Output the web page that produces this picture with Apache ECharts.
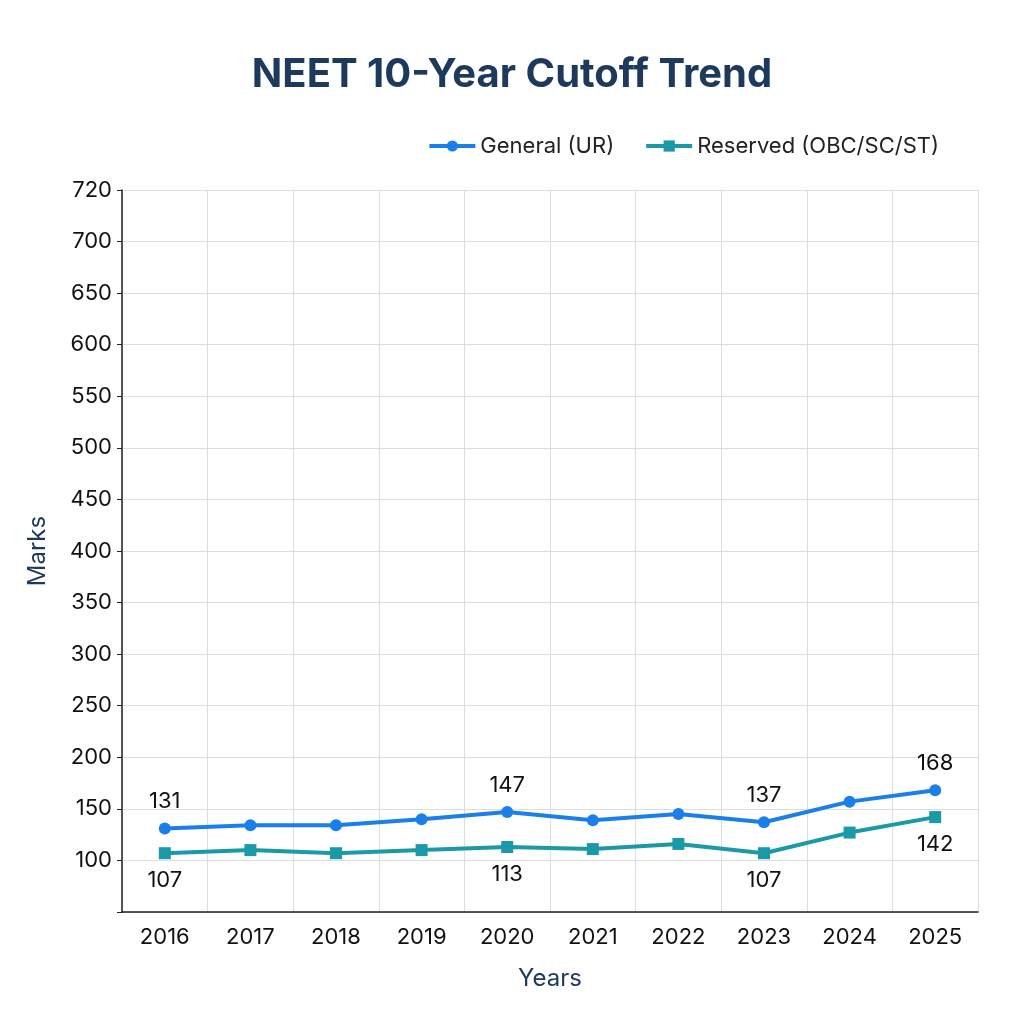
<!DOCTYPE html>
<html>
<head>
<meta charset="utf-8">
<script src="https://cdn.jsdelivr.net/npm/echarts@6/dist/echarts.min.js"></script>
<style>html,body{margin:0;background:#fff}#main{width:1024px;height:1024px}</style>
</head>
<body>
<div id="main"></div>
<script>
var years = ['2016','2017','2018','2019','2020','2021','2022','2023','2024','2025'];
var general = [131, 134, 134, 140, 147, 139, 145, 137, 157, 168];
var reserved = [107, 110, 107, 110, 113, 111, 116, 107, 127, 142];
var labelYears = ['2016','2020','2023','2025'];

function lbl(pos) {
    return {
        show: true,
        position: pos,
        distance: 10,
        fontSize: 22,
        color: '#111',
        formatter: function(p) {
            return labelYears.indexOf(p.name) >= 0 ? p.value : '';
        }
    };
}

var myChart = echarts.init(document.getElementById('main'));
var option = {
    textStyle: { fontFamily: 'Inter' },
    title: {
        text: 'NEET 10-Year Cutoff Trend',
        left: 'center',
        top: 50,
        textStyle: { fontSize: 40, fontWeight: 'bold', color: '#1d3a5c' }
    },
    legend: {
        right: 80,
        top: 130,
        itemWidth: 46,
        itemHeight: 14,
        itemGap: 30,
        textStyle: { fontSize: 22, color: '#222' },
        lineStyle: { width: 4 },
        data: ['General (UR)', 'Reserved (OBC/SC/ST)']
    },
    grid: { left: 122, right: 46, top: 190, bottom: 112 },
    xAxis: {
        type: 'category',
        data: years,
        boundaryGap: true,
        name: 'Years',
        nameLocation: 'middle',
        nameGap: 55,
        nameTextStyle: { fontSize: 24, color: '#1d3a5c' },
        axisLine: { lineStyle: { color: '#222', width: 1.5 } },
        axisTick: { alignWithLabel: true, lineStyle: { color: '#222' } },
        axisLabel: { fontSize: 22, color: '#111', margin: 14 },
        splitLine: { show: true, lineStyle: { color: '#dddddd' } }
    },
    yAxis: {
        type: 'value',
        min: 50,
        max: 750,
        interval: 50,
        name: 'Marks',
        nameLocation: 'middle',
        nameGap: 72,
        nameTextStyle: { fontSize: 24, color: '#1d3a5c' },
        axisLine: { show: true, lineStyle: { color: '#222', width: 1.5 } },
        axisTick: { show: true, lineStyle: { color: '#222' } },
        axisLabel: {
            fontSize: 22, color: '#111', margin: 10,
            formatter: function(v) { return v === 50 ? '' : (v === 750 ? '720' : v); }
        },
        splitLine: { lineStyle: { color: '#dddddd' } }
    },
    series: [{
        name: 'General (UR)',
        type: 'line',
        data: general,
        symbol: 'circle',
        symbolSize: 12,
        itemStyle: { color: '#1a7fe8' },
        lineStyle: { width: 4, color: '#1a7fe8' },
        label: lbl('top')
    }, {
        name: 'Reserved (OBC/SC/ST)',
        type: 'line',
        data: reserved,
        symbol: 'rect',
        symbolSize: 12,
        itemStyle: { color: '#1a9aa8' },
        lineStyle: { width: 4, color: '#1a9aa8' },
        label: lbl('bottom')
    }]
};
myChart.setOption(option);
</script>
</body>
</html>
